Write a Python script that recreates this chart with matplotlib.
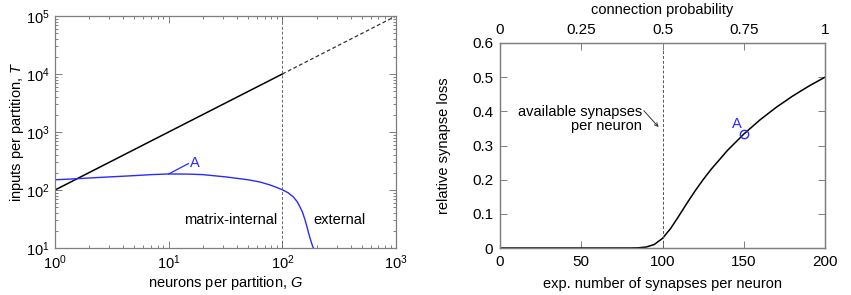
import matplotlib
matplotlib.use("Agg")
import matplotlib.pyplot as plt
from matplotlib.ticker import LogLocator, NullFormatter

plt.rcParams['font.family'] = ['Liberation Sans', 'DejaVu Sans']
plt.rcParams['mathtext.fontset'] = 'custom'
plt.rcParams['mathtext.rm'] = 'Liberation Sans'
plt.rcParams['mathtext.it'] = 'Liberation Sans:italic'

# ---- left panel data ----
G_total = [1, 100]
T_total = [100, 10000]
G_total_ext = [100, 1000]
T_total_ext = [10000, 100000]

G_blue = [1, 1.5, 2, 3, 5, 7, 10, 15, 20, 32, 50, 64, 78, 90, 100, 112, 125, 135, 143, 150, 158, 164, 169, 175, 180, 185, 188]
T_blue = [150, 156, 161, 168, 177, 184, 189, 188, 184, 168, 150, 137, 122, 110, 101, 90, 76, 63, 51, 42, 31, 24, 19, 15, 12.5, 10.6, 10]

G_split = 100

# ---- right panel data ----
n_syn = [0, 20, 40, 60, 70, 80, 85, 90, 95, 100, 105, 110, 115, 120, 125, 130, 140, 150, 160, 170, 180, 190, 200]
loss = [0, 0, 0, 0, 0, 0.00005, 0.0005, 0.0028, 0.0105, 0.0282, 0.0571, 0.0932, 0.1308, 0.1667,
        0.2, 0.2308, 0.2857, 0.3333, 0.375, 0.4118, 0.4444, 0.4737, 0.5]
A_point = (150, 0.3333)
avail = 100
prob_ticks = [0, 0.25, 0.5, 0.75, 1]
prob_labels = ['0', '0.25', '0.5', '0.75', '1']

spine_col = '#7f7f7f'
blue = '#2a2aff'
fs = 10.5

fig = plt.figure(figsize=(8.51, 2.95), dpi=100)

# ---------------- left ----------------
ax = fig.add_axes([55/851, 47/295, 341/851, 232/295])
ax.set_xscale('log')
ax.set_yscale('log')
ax.set_xlim(1, 1000)
ax.set_ylim(10, 1e5)
ax.plot(G_total, T_total, color='black', lw=1.1)
ax.plot(G_total_ext, T_total_ext, color='#333333', lw=0.9, ls=(0, (3, 2)))
ax.plot(G_blue, T_blue, color=blue, lw=1.0)
ax.axvline(G_split, color='#666666', lw=0.7, ls=(0, (3, 2)))
ax.plot([10, 14.9], [189, 285], color=blue, lw=0.9)
ax.text(15.5, 290, 'A', color=blue, fontsize=fs, ha='left', va='center')
ax.text(91, 30.5, 'matrix-internal', fontsize=fs, ha='right', va='center')
ax.text(187, 30.5, 'external', fontsize=fs, ha='left', va='center')
ax.set_xlabel('neurons per partition, $G$', fontsize=fs, labelpad=1)
ax.set_ylabel('inputs per partition, $T$', fontsize=fs, labelpad=0)
ax.xaxis.set_major_locator(LogLocator(base=10, numticks=10))
ax.yaxis.set_major_locator(LogLocator(base=10, numticks=10))
ax.xaxis.set_minor_locator(LogLocator(base=10, subs=range(2, 10), numticks=20))
ax.yaxis.set_minor_locator(LogLocator(base=10, subs=range(2, 10), numticks=20))
ax.xaxis.set_minor_formatter(NullFormatter())
ax.yaxis.set_minor_formatter(NullFormatter())
ax.tick_params(which='both', direction='in', top=True, right=True, color=spine_col,
               labelsize=10.5, width=0.7)
ax.tick_params(which='major', length=5, pad=4)
ax.tick_params(which='minor', length=2.5)
for s in ax.spines.values():
    s.set_color(spine_col)
    s.set_linewidth(0.9)

# ---------------- right ----------------
ax2 = fig.add_axes([500/851, 47/295, 325/851, 205/295])
ax2.set_xlim(0, 200)
ax2.set_ylim(0, 0.6)
ax2.plot(n_syn, loss, color='black', lw=1.1)
ax2.axvline(avail, color='#555555', lw=0.7, ls=(0, (3, 2)))
ax2.plot([A_point[0]], [A_point[1]], 'o', mfc='none', mec=blue, ms=6, mew=1.0)
ax2.text(149, 0.343, 'A', color=blue, fontsize=fs, ha='right', va='bottom')
ax2.text(87.5, 0.378, 'available synapses\nper neuron', fontsize=fs, ha='right', va='center',
         linespacing=1.0)
ax2.annotate('', xy=(97.6, 0.354), xytext=(88.5, 0.402),
             arrowprops=dict(arrowstyle='->', color='#333333', lw=0.7,
                             shrinkA=0, shrinkB=0, mutation_scale=6))
ax2.set_xticks([0, 50, 100, 150, 200])
ax2.set_yticks([0, 0.1, 0.2, 0.3, 0.4, 0.5, 0.6])
ax2.set_yticklabels(['0', '0.1', '0.2', '0.3', '0.4', '0.5', '0.6'])
ax2.set_xlabel('exp. number of synapses per neuron', fontsize=fs, labelpad=6)
ax2.set_ylabel('relative synapse loss', fontsize=fs, labelpad=15)
ax2.tick_params(direction='in', right=True, color=spine_col, labelsize=11,
                length=5, width=0.7, pad=5)
top = ax2.twiny()
top.set_xlim(0, 1)
top.set_xticks(prob_ticks)
top.set_xticklabels(prob_labels)
top.tick_params(direction='in', color=spine_col, labelsize=11, length=5, width=0.7, pad=4)
top.set_xlabel('connection probability', fontsize=fs, labelpad=7)
for a in (ax2, top):
    for s in a.spines.values():
        s.set_color(spine_col)
        s.set_linewidth(0.9)

fig.savefig('out.png', dpi=100)
